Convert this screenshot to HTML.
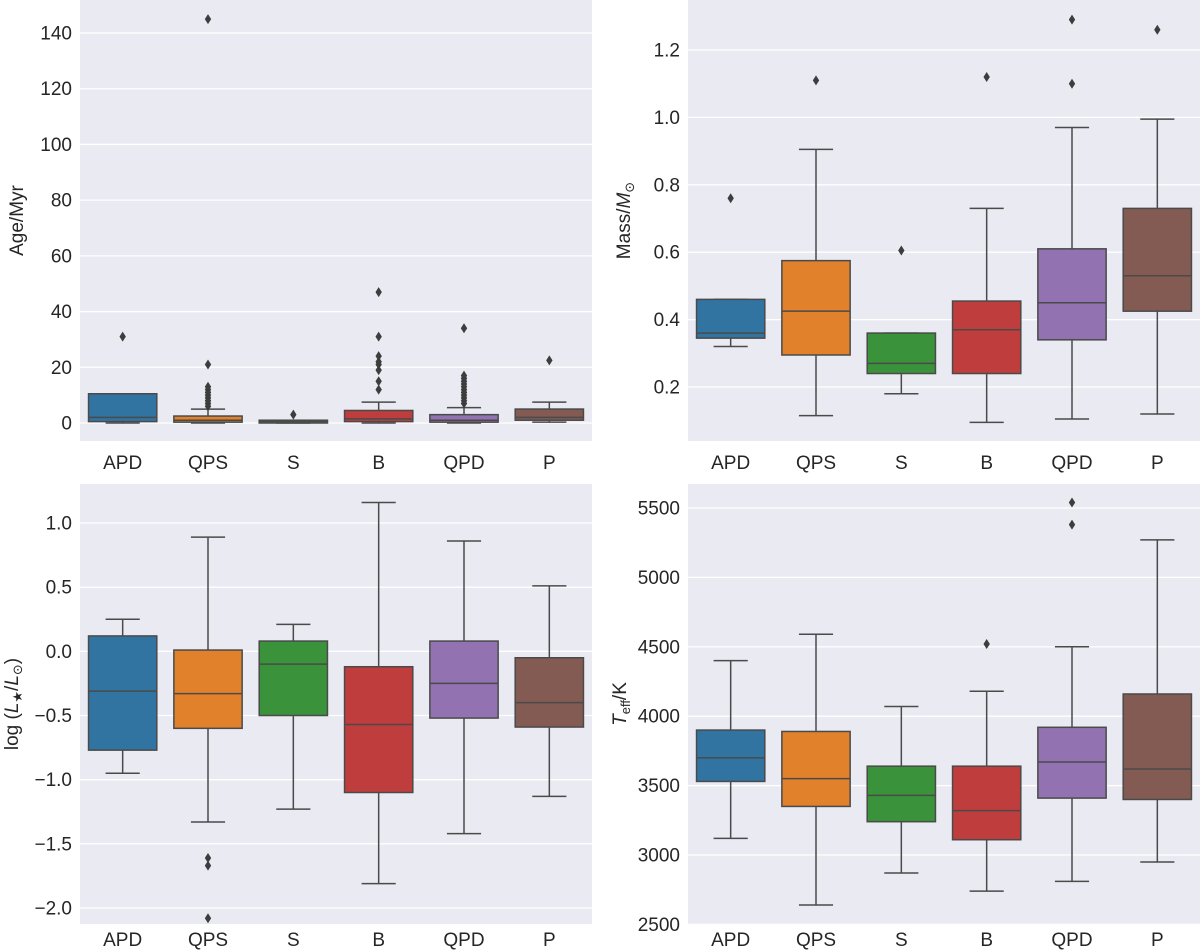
<!DOCTYPE html>
<html><head><meta charset="utf-8"><title>Box plots</title>
<style>
html,body{margin:0;padding:0;background:#fff;}
svg{display:block;font-family:"Liberation Sans","DejaVu Sans",sans-serif;}
</style></head>
<body>
<svg id="fig" width="1200" height="952" viewBox="0 0 1200 952" xmlns="http://www.w3.org/2000/svg"></svg>
<script>
const categories = ["APD","QPS","S","B","QPD","P"];
const colors = ["#3274a1","#e1812c","#3a923a","#c03d3e","#9372b2","#845b53"];

// [whiskerLow, q1, median, q3, whiskerHigh]
const ageStats = [[0,0.5,2,10.5,10.5],[0,0.3,1,2.5,5],[0,0,0.5,1,1],[0,0.5,1.5,4.5,7.5],[0,0.3,1,3,5.5],[0.3,1,2,5,7.5]];
const ageFliers = [[31],[6,7,8,9,10,11,12,13,21,145],[3],[12,15,19,21,22,24,31,47],[7,8,9,10,11,12,13,14,15,16,17,34],[22.5]];
const ageTicks = [0,20,40,60,80,100,120,140];

const massStats = [[0.32,0.345,0.36,0.46,0.46],[0.115,0.295,0.425,0.575,0.905],[0.18,0.24,0.27,0.36,0.36],[0.095,0.24,0.37,0.455,0.73],[0.105,0.34,0.45,0.61,0.97],[0.12,0.425,0.53,0.73,0.995]];
const massFliers = [[0.76],[1.11],[0.605],[1.12],[1.1,1.29],[1.26]];
const massTicks = [0.2,0.4,0.6,0.8,1.0,1.2];

const lumStats = [[-0.95,-0.77,-0.31,0.12,0.25],[-1.33,-0.6,-0.33,0.01,0.89],[-1.23,-0.5,-0.1,0.08,0.21],[-1.81,-1.1,-0.57,-0.12,1.16],[-1.42,-0.52,-0.25,0.08,0.86],[-1.13,-0.59,-0.4,-0.05,0.51]];
const lumFliers = [[],[-1.61,-1.67,-2.08],[],[],[],[]];
const lumTicks = [-2.0,-1.5,-1.0,-0.5,0.0,0.5,1.0];

const teffStats = [[3120,3530,3700,3900,4400],[2640,3350,3550,3890,4590],[2870,3240,3430,3640,4070],[2740,3110,3320,3640,4180],[2810,3410,3670,3920,4500],[2950,3400,3620,4160,5270]];
const teffFliers = [[],[],[],[4520],[5380,5540],[]];
const teffTicks = [2500,3000,3500,4000,4500,5000,5500];

const NS = "http://www.w3.org/2000/svg";
const svg = document.getElementById("fig");
function mk(tag, attrs, parent){
  const e = document.createElementNS(NS, tag);
  for (const k in attrs) e.setAttribute(k, attrs[k]);
  (parent||svg).appendChild(e);
  return e;
}

function panel(cfg){
  const g = mk("g", {});
  
  
  const {x0,x1,y0,y1} = cfg;
  const yScale = v => cfg.ra[1] + (v - cfg.ra[0]) * (cfg.rb[1]-cfg.ra[1])/(cfg.rb[0]-cfg.ra[0]);
  const band = (x1-x0)/categories.length;
  const xCenter = i => x0 + band*(i+0.5);
  const bg = mk("rect", {x:x0,y:y0,width:x1-x0,height:y1-y0,fill:"#eaeaf2"}, g);
  
  
  cfg.ticks.forEach(t=>{
    const y = yScale(t);
    const gl = mk("line",{x1:x0,x2:x1,y1:y,y2:y,stroke:"#ffffff","stroke-width":1.3},g);
    
    
    const tl = mk("text",{x:x0-8,y:y+6.5,"text-anchor":"end","font-size":19,fill:"#262626"},g);
    tl.textContent = cfg.fmt(t).replace("-","\u2212");
    
    
  });
  categories.forEach((c,i)=>{
    const xl = mk("text",{x:xCenter(i),y:y1+cfg.lo,"text-anchor":"middle","font-size":19,fill:"#262626"},g);
    xl.textContent = c;
    
    
  });
  const line = "#4a4a4a";
  cfg.stats.forEach((s,i)=>{
    const cx = xCenter(i), bw = band*0.8, cw = bw/2;
    const bg2 = mk("g",{},g);
    
    
    const [lo,q1,md,q3,hi] = s.map(yScale);
    mk("line",{x1:cx,x2:cx,y1:lo,y2:q1,stroke:line,"stroke-width":1.5},bg2);
    mk("line",{x1:cx,x2:cx,y1:q3,y2:hi,stroke:line,"stroke-width":1.5},bg2);
    mk("line",{x1:cx-cw/2,x2:cx+cw/2,y1:lo,y2:lo,stroke:line,"stroke-width":1.5},bg2);
    mk("line",{x1:cx-cw/2,x2:cx+cw/2,y1:hi,y2:hi,stroke:line,"stroke-width":1.5},bg2);
    mk("rect",{x:cx-bw/2,y:q3,width:bw,height:Math.max(q1-q3,0.5),fill:colors[i],stroke:line,"stroke-width":1.5},bg2);
    mk("line",{x1:cx-bw/2,x2:cx+bw/2,y1:md,y2:md,stroke:line,"stroke-width":1.5},bg2);
    cfg.fliers[i].forEach(f=>{
      const fy = yScale(f);
      const d = mk("path",{d:`M${cx},${fy-5} L${cx+3.2},${fy} L${cx},${fy+5} L${cx-3.2},${fy} Z`,fill:"#3d3d3d"},bg2);
      
      
    });
  });
  const yl = mk("text",{transform:`translate(${cfg.lx},${(y0+y1)/2}) rotate(-90)`,"text-anchor":"middle","font-size":19,fill:"#262626"},g);
  yl.innerHTML = cfg.label;
  
  
}

panel({name:"age-panel",x0:80,x1:592,y0:0,y1:441,lo:28,ra:[0,423],rb:[140,33],ticks:ageTicks,stats:ageStats,fliers:ageFliers,fmt:t=>String(t),label:"Age/Myr",lx:23});
panel({name:"mass-panel",x0:688,x1:1200,y0:0,y1:441,lo:28,ra:[0.2,387],rb:[1.2,50],ticks:massTicks,stats:massStats,fliers:massFliers,fmt:t=>t.toFixed(1),label:'Mass/<tspan font-style="italic">M</tspan><tspan font-size="13" dy="4">\u2299</tspan>',lx:630});
panel({name:"luminosity-panel",x0:80,x1:592,y0:484,y1:924,lo:22,ra:[1.0,523],rb:[-2.0,908],ticks:lumTicks,stats:lumStats,fliers:lumFliers,fmt:t=>t.toFixed(1),label:'log (<tspan font-style="italic">L</tspan><tspan font-size="13" dy="4">\u2605</tspan><tspan dy="-4">/</tspan><tspan font-style="italic">L</tspan><tspan font-size="13" dy="4">\u2299</tspan><tspan dy="-4">)</tspan>',lx:18});
panel({name:"teff-panel",x0:688,x1:1200,y0:484,y1:924,lo:22,ra:[3000,855],rb:[5500,508],ticks:teffTicks,stats:teffStats,fliers:teffFliers,fmt:t=>String(t),label:'<tspan font-style="italic">T</tspan><tspan font-size="13" dy="4">eff</tspan><tspan dy="-4">/K</tspan>',lx:626});
</script>
</body></html>
